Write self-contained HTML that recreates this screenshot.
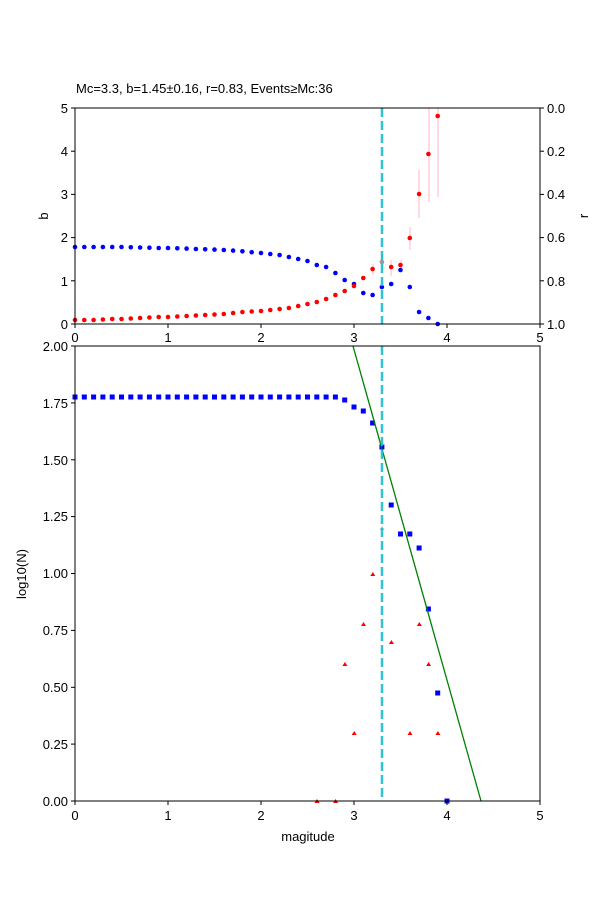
<!DOCTYPE html>
<html><head><meta charset="utf-8"><style>body{margin:0;background:#fff}svg{display:block;font-family:"Liberation Sans","DejaVu Sans",sans-serif}</style></head>
<body>
<svg width="600" height="900" xmlns="http://www.w3.org/2000/svg">
<rect width="600" height="900" fill="#fff"/>
<text x="76" y="93" font-size="13">Mc=3.3, b=1.45±0.16, r=0.83, Events≥Mc:36</text>
<!-- top error bars -->
<g stroke="#ffb6c1" stroke-width="1">
<line x1="373" y1="264" x2="373" y2="275"/><line x1="382" y1="255" x2="382" y2="269"/>
<line x1="391" y1="260" x2="391" y2="276"/><line x1="401" y1="260" x2="401" y2="270"/>
<line x1="410" y1="227" x2="410" y2="250"/><line x1="419" y1="170" x2="419" y2="218"/>
<line x1="429" y1="108" x2="429" y2="202"/><line x1="438" y1="108" x2="438" y2="197"/>
</g>
<g fill="#00f">
<circle cx="75" cy="247" r="2.3"/><circle cx="84.3" cy="247" r="2.3"/><circle cx="93.6" cy="247" r="2.3"/><circle cx="102.9" cy="247" r="2.3"/><circle cx="112.2" cy="247" r="2.3"/><circle cx="121.5" cy="247" r="2.3"/><circle cx="130.8" cy="247.3" r="2.3"/><circle cx="140.1" cy="247.5" r="2.3"/><circle cx="149.4" cy="247.7" r="2.3"/><circle cx="158.7" cy="248" r="2.3"/><circle cx="168" cy="248" r="2.3"/><circle cx="177.3" cy="248.3" r="2.3"/><circle cx="186.6" cy="248.6" r="2.3"/><circle cx="195.9" cy="249" r="2.3"/><circle cx="205.2" cy="249.3" r="2.3"/><circle cx="214.5" cy="249.6" r="2.3"/><circle cx="223.8" cy="250" r="2.3"/><circle cx="233.1" cy="250.6" r="2.3"/><circle cx="242.4" cy="251.3" r="2.3"/><circle cx="251.7" cy="252.2" r="2.3"/>
<circle cx="261" cy="253" r="2.3"/><circle cx="270.3" cy="254" r="2.3"/><circle cx="279.6" cy="255" r="2.3"/><circle cx="288.9" cy="257" r="2.3"/><circle cx="298.2" cy="259" r="2.3"/><circle cx="307.5" cy="261" r="2.3"/><circle cx="316.8" cy="265" r="2.3"/><circle cx="326.1" cy="267" r="2.3"/><circle cx="335.4" cy="273" r="2.3"/><circle cx="344.7" cy="280" r="2.3"/><circle cx="354" cy="284" r="2.3"/><circle cx="363.3" cy="293" r="2.3"/><circle cx="372.6" cy="295" r="2.3"/><circle cx="381.9" cy="287" r="2.3"/><circle cx="391.2" cy="284" r="2.3"/><circle cx="400.5" cy="270" r="2.3"/><circle cx="409.8" cy="287" r="2.3"/><circle cx="419.1" cy="312" r="2.3"/><circle cx="428.4" cy="318" r="2.3"/><circle cx="437.7" cy="324" r="2.3"/>
</g>
<g fill="#f00">
<circle cx="75" cy="320" r="2.3"/><circle cx="84.3" cy="320" r="2.3"/><circle cx="93.6" cy="320" r="2.3"/><circle cx="102.9" cy="319.5" r="2.3"/><circle cx="112.2" cy="319" r="2.3"/><circle cx="121.5" cy="319" r="2.3"/><circle cx="130.8" cy="318.5" r="2.3"/><circle cx="140.1" cy="318" r="2.3"/><circle cx="149.4" cy="317.5" r="2.3"/><circle cx="158.7" cy="317" r="2.3"/><circle cx="168" cy="317" r="2.3"/><circle cx="177.3" cy="316.5" r="2.3"/><circle cx="186.6" cy="316" r="2.3"/><circle cx="195.9" cy="315.5" r="2.3"/><circle cx="205.2" cy="315" r="2.3"/><circle cx="214.5" cy="314.5" r="2.3"/><circle cx="223.8" cy="314" r="2.3"/><circle cx="233.1" cy="313" r="2.3"/><circle cx="242.4" cy="312" r="2.3"/><circle cx="251.7" cy="311.5" r="2.3"/>
<circle cx="261" cy="311" r="2.3"/><circle cx="270.3" cy="310" r="2.3"/><circle cx="279.6" cy="309" r="2.3"/><circle cx="288.9" cy="308" r="2.3"/><circle cx="298.2" cy="306" r="2.3"/><circle cx="307.5" cy="304" r="2.3"/><circle cx="316.8" cy="302" r="2.3"/><circle cx="326.1" cy="299" r="2.3"/><circle cx="335.4" cy="295" r="2.3"/><circle cx="344.7" cy="291" r="2.3"/><circle cx="354" cy="286" r="2.3"/><circle cx="363.3" cy="278" r="2.3"/><circle cx="372.6" cy="269" r="2.3"/><circle cx="381.9" cy="262" r="2.3" fill="#999"/><circle cx="391.2" cy="267" r="2.3"/><circle cx="400.5" cy="265" r="2.3"/><circle cx="409.8" cy="238" r="2.3"/><circle cx="419.1" cy="194" r="2.3"/><circle cx="428.4" cy="154" r="2.3"/><circle cx="437.7" cy="116" r="2.3"/>
</g>
<line x1="382" y1="108" x2="382" y2="324" stroke="#17becf" stroke-width="2.5" stroke-dasharray="9,4" stroke-opacity="0.9"/>
<rect x="75" y="108" width="465" height="216" fill="none" stroke="#000" stroke-width="1"/>
<g stroke="#000"><line x1="71" y1="324" x2="75" y2="324"/><line x1="71" y1="280.8" x2="75" y2="280.8"/><line x1="71" y1="237.6" x2="75" y2="237.6"/><line x1="71" y1="194.4" x2="75" y2="194.4"/><line x1="71" y1="151.2" x2="75" y2="151.2"/><line x1="71" y1="108" x2="75" y2="108"/>
<line x1="540" y1="324" x2="544" y2="324"/><line x1="540" y1="280.8" x2="544" y2="280.8"/><line x1="540" y1="237.6" x2="544" y2="237.6"/><line x1="540" y1="194.4" x2="544" y2="194.4"/><line x1="540" y1="151.2" x2="544" y2="151.2"/><line x1="540" y1="108" x2="544" y2="108"/>
<line x1="75" y1="324" x2="75" y2="328"/><line x1="168" y1="324" x2="168" y2="328"/><line x1="261" y1="324" x2="261" y2="328"/><line x1="354" y1="324" x2="354" y2="328"/><line x1="447" y1="324" x2="447" y2="328"/><line x1="540" y1="324" x2="540" y2="328"/></g>
<g font-size="13" text-anchor="end"><text x="68" y="329">0</text><text x="68" y="286">1</text><text x="68" y="242">2</text><text x="68" y="199">3</text><text x="68" y="156">4</text><text x="68" y="113">5</text></g>
<g font-size="13"><text x="547" y="329">1.0</text><text x="547" y="286">0.8</text><text x="547" y="242">0.6</text><text x="547" y="199">0.4</text><text x="547" y="156">0.2</text><text x="547" y="113">0.0</text></g>
<g font-size="13" text-anchor="middle"><text x="75" y="342">0</text><text x="168" y="342">1</text><text x="261" y="342">2</text><text x="354" y="342">3</text><text x="447" y="342">4</text><text x="540" y="342">5</text></g>
<text x="48" y="216" font-size="13" text-anchor="middle" transform="rotate(-90 48 216)">b</text>
<text x="588" y="216" font-size="13" text-anchor="middle" transform="rotate(-90 588 216)">r</text>

<!-- bottom panel -->
<rect x="75" y="346" width="465" height="455" fill="#fff"/>
<g fill="#00f">
<rect x="72.5" y="394.5" width="5" height="5"/><rect x="81.8" y="394.5" width="5" height="5"/><rect x="91.1" y="394.5" width="5" height="5"/><rect x="100.4" y="394.5" width="5" height="5"/><rect x="109.7" y="394.5" width="5" height="5"/><rect x="119" y="394.5" width="5" height="5"/><rect x="128.3" y="394.5" width="5" height="5"/><rect x="137.6" y="394.5" width="5" height="5"/><rect x="146.9" y="394.5" width="5" height="5"/><rect x="156.2" y="394.5" width="5" height="5"/><rect x="165.5" y="394.5" width="5" height="5"/><rect x="174.8" y="394.5" width="5" height="5"/><rect x="184.1" y="394.5" width="5" height="5"/><rect x="193.4" y="394.5" width="5" height="5"/><rect x="202.7" y="394.5" width="5" height="5"/><rect x="212" y="394.5" width="5" height="5"/><rect x="221.3" y="394.5" width="5" height="5"/><rect x="230.6" y="394.5" width="5" height="5"/><rect x="239.9" y="394.5" width="5" height="5"/><rect x="249.2" y="394.5" width="5" height="5"/><rect x="258.5" y="394.5" width="5" height="5"/><rect x="267.8" y="394.5" width="5" height="5"/><rect x="277.1" y="394.5" width="5" height="5"/><rect x="286.4" y="394.5" width="5" height="5"/><rect x="295.7" y="394.5" width="5" height="5"/><rect x="305" y="394.5" width="5" height="5"/><rect x="314.3" y="394.5" width="5" height="5"/><rect x="323.6" y="394.5" width="5" height="5"/>
<rect x="332.9" y="394.5" width="5" height="5"/><rect x="342.2" y="397.5" width="5" height="5"/><rect x="351.5" y="404.5" width="5" height="5"/><rect x="360.8" y="408.5" width="5" height="5"/><rect x="370.1" y="420.5" width="5" height="5"/><rect x="379.4" y="444.5" width="5" height="5"/><rect x="388.7" y="502.5" width="5" height="5"/><rect x="398" y="531.5" width="5" height="5"/><rect x="407.3" y="531.5" width="5" height="5"/><rect x="416.6" y="545.5" width="5" height="5"/><rect x="425.9" y="606.5" width="5" height="5"/><rect x="435.2" y="690.5" width="5" height="5"/><rect x="444.5" y="798.5" width="5" height="5"/>
</g>
<g fill="#f00">
<path d="M317,799 l2.5,4 h-5z"/><path d="M335.6,799 l2.5,4 h-5z"/><path d="M344.9,662 l2.5,4 h-5z"/><path d="M354.2,731 l2.5,4 h-5z"/><path d="M363.5,622 l2.5,4 h-5z"/><path d="M372.8,572 l2.5,4 h-5z"/><path d="M382.1,526 l2.5,4 h-5z" fill="#f99"/><path d="M391.4,640 l2.5,4 h-5z"/><path d="M410,731 l2.5,4 h-5z"/><path d="M419.3,622 l2.5,4 h-5z"/><path d="M428.6,662 l2.5,4 h-5z"/><path d="M437.9,731 l2.5,4 h-5z"/>
</g>
<line x1="353" y1="346" x2="481" y2="801" stroke="#008000" stroke-width="1.3"/>
<line x1="382" y1="346" x2="382" y2="801" stroke="#17becf" stroke-width="2.5" stroke-dasharray="9,4" stroke-opacity="0.9"/>
<rect x="75" y="346" width="465" height="455" fill="none" stroke="#000" stroke-width="1"/>
<g stroke="#000"><line x1="71" y1="801" x2="75" y2="801"/><line x1="71" y1="744.1" x2="75" y2="744.1"/><line x1="71" y1="687.3" x2="75" y2="687.3"/><line x1="71" y1="630.4" x2="75" y2="630.4"/><line x1="71" y1="573.5" x2="75" y2="573.5"/><line x1="71" y1="516.6" x2="75" y2="516.6"/><line x1="71" y1="459.8" x2="75" y2="459.8"/><line x1="71" y1="402.9" x2="75" y2="402.9"/><line x1="71" y1="346" x2="75" y2="346"/>
<line x1="75" y1="801" x2="75" y2="805"/><line x1="168" y1="801" x2="168" y2="805"/><line x1="261" y1="801" x2="261" y2="805"/><line x1="354" y1="801" x2="354" y2="805"/><line x1="447" y1="801" x2="447" y2="805"/><line x1="540" y1="801" x2="540" y2="805"/></g>
<g font-size="13" text-anchor="end"><text x="68" y="806">0.00</text><text x="68" y="749">0.25</text><text x="68" y="692">0.50</text><text x="68" y="635">0.75</text><text x="68" y="578">1.00</text><text x="68" y="521">1.25</text><text x="68" y="465">1.50</text><text x="68" y="408">1.75</text><text x="68" y="351">2.00</text></g>
<g font-size="13" text-anchor="middle"><text x="75" y="820">0</text><text x="168" y="820">1</text><text x="261" y="820">2</text><text x="354" y="820">3</text><text x="447" y="820">4</text><text x="540" y="820">5</text></g>
<text x="308" y="841" font-size="13" text-anchor="middle">magitude</text>
<text x="26" y="574" font-size="13" text-anchor="middle" transform="rotate(-90 26 574)">log10(N)</text>
</svg>
</body></html>
